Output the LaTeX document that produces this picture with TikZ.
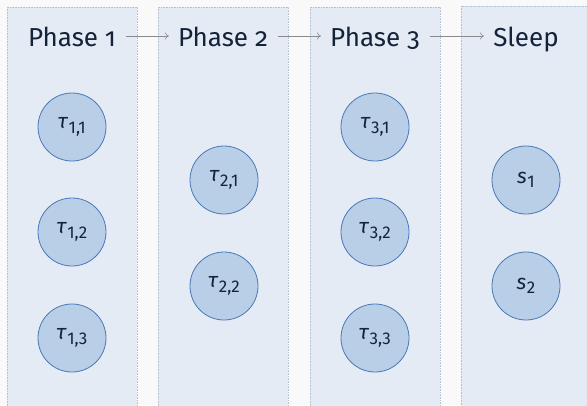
\documentclass[tikz,border=0pt]{standalone}
\usepackage{fontspec}
\setmainfont{Fira Sans}[Numbers=OldStyle]
\newfontfamily\liningfont{Fira Sans}[Numbers=Lining]
\usetikzlibrary{arrows.meta}
\definecolor{pagebg}{HTML}{F9F9F9}
\definecolor{colfill}{HTML}{E4EBF5}
\definecolor{colline}{HTML}{B4C2D4}
\definecolor{circfill}{HTML}{B9CFE7}
\definecolor{circline}{HTML}{4A78B8}
\definecolor{txt}{HTML}{14233A}
\definecolor{arr}{HTML}{8A8A8A}
\newcommand{\tl}[2]{\textit{#1}\kern0.5pt\raisebox{-0.4ex}{\liningfont\fontsize{17}{17}\selectfont #2}}
\tikzset{
  column/.style={fill=colfill, draw=colline, densely dotted, line width=0.6pt},
  head/.style={text=txt, font=\fontsize{26}{28}\selectfont, inner sep=0pt, anchor=base},
  task/.style={circle, fill=circfill, draw=circline, line width=0.8pt, minimum size=68pt, inner sep=0pt, text=txt, font=\fontsize{21}{22}\selectfont},
  link/.style={draw=arr, line width=0.6pt, -{To[length=4pt,width=7pt]}}
}
\begin{document}
\begin{tikzpicture}[x=1pt,y=-1pt]
\fill[pagebg] (0,0) rectangle (587,405);
\useasboundingbox (0,0) rectangle (587,405);
\draw[column] (7,7) rectangle (137,410);
\draw[column] (158,7) rectangle (288,410);
\draw[column] (310,7) rectangle (440,410);
\draw[column] (461,6) rectangle (592,410);
\node[head] (h1) at (72,46) {Phase 1};
\node[head] (h2) at (223,46) {Phase 2};
\node[head] (h3) at (375,46) {Phase 3};
\node[head] (h4) at (526,46) {Sleep};
\draw[link] ([xshift=10pt,yshift=10pt]h1.base east) -- ([xshift=-9pt,yshift=10pt]h2.base west);
\draw[link] ([xshift=10pt,yshift=10pt]h2.base east) -- ([xshift=-9pt,yshift=10pt]h3.base west);
\draw[link] ([xshift=10pt,yshift=10pt]h3.base east) -- ([xshift=-9pt,yshift=10pt]h4.base west);
\node[task] (t11) at (72,127) {\tl{τ}{1,1}};
\node[task] (t12) at (72,232) {\tl{τ}{1,2}};
\node[task] (t13) at (72,338) {\tl{τ}{1,3}};
\node[task] (t21) at (224,180) {\tl{τ}{2,1}};
\node[task] (t22) at (224,286) {\tl{τ}{2,2}};
\node[task] (t31) at (375,127) {\tl{τ}{3,1}};
\node[task] (t32) at (375,232) {\tl{τ}{3,2}};
\node[task] (t33) at (375,338) {\tl{τ}{3,3}};
\node[task] (s1) at (526,180) {\tl{s}{1}};
\node[task] (s2) at (526,286) {\tl{s}{2}};
\end{tikzpicture}
\end{document}
